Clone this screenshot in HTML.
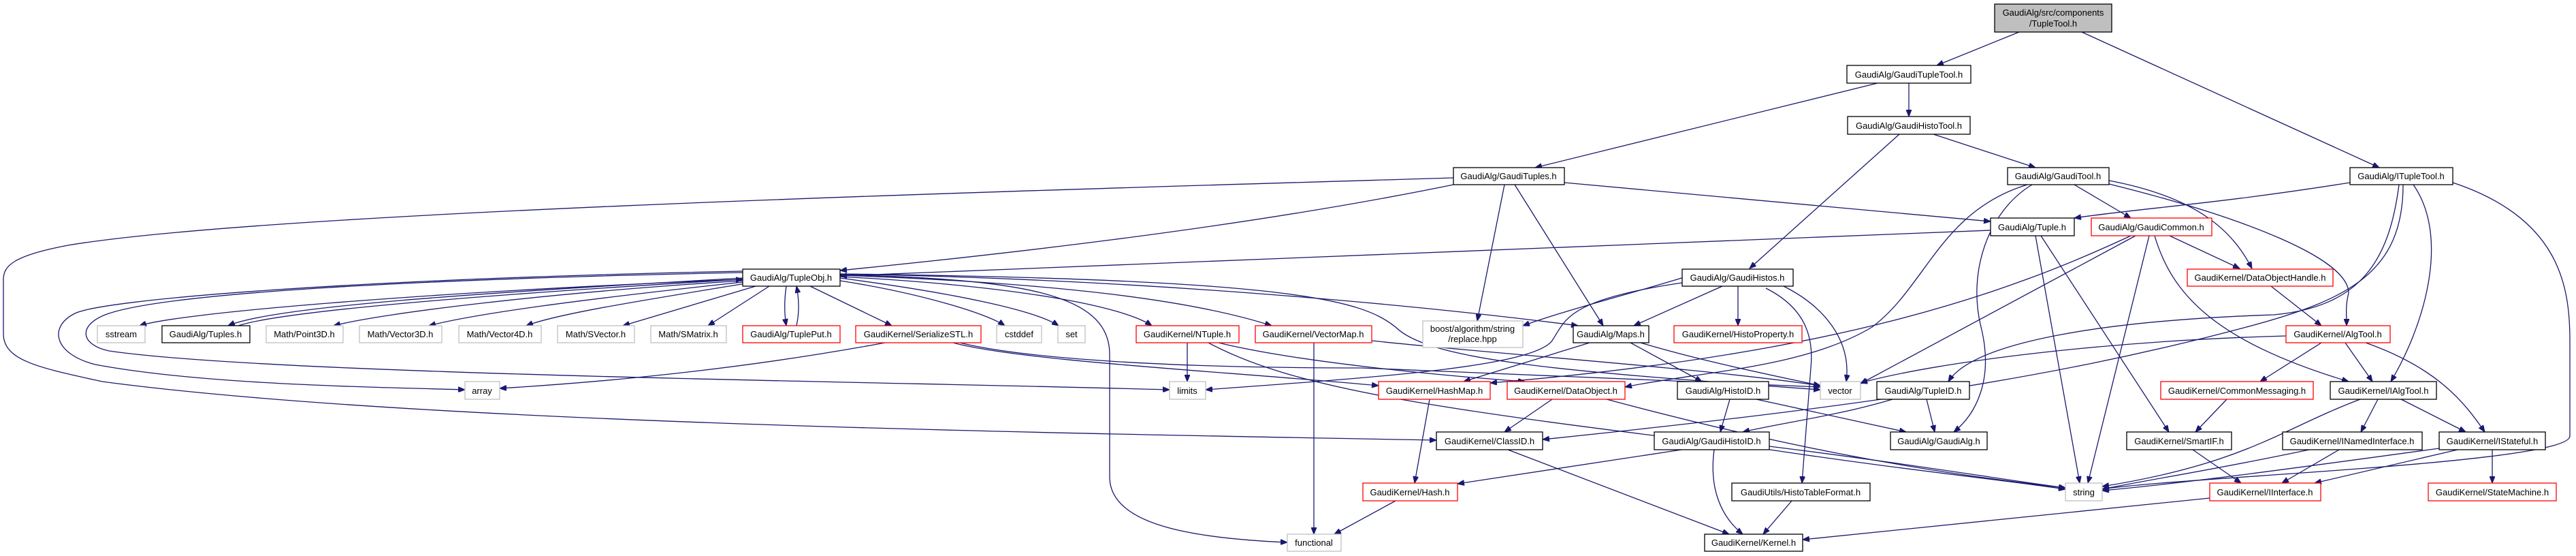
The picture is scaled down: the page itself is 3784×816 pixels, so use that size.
<!DOCTYPE html>
<html><head><meta charset="utf-8"><style>
html,body{margin:0;padding:0;background:#fff;}
svg{display:block;}
text{font-family:"Liberation Sans",Arial,sans-serif;font-size:13px;fill:#000;}
.e{fill:none;stroke:#191970;stroke-width:1.3;marker-end:url(#a);}
.b rect{fill:#fff;stroke:#000;stroke-width:1.3;}
.r rect{fill:#fff;stroke:#ff0000;stroke-width:1.3;}
.g rect{fill:#fff;stroke:#bfbfbf;stroke-width:1.3;}
</style></head><body>
<svg width="3784" height="816" viewBox="0 0 3784 816" xmlns="http://www.w3.org/2000/svg">
<defs><marker id="a" markerUnits="userSpaceOnUse" markerWidth="11" markerHeight="8" refX="10" refY="4" orient="auto"><path d="M0,0 L10,4 L0,8 z" fill="#191970" stroke="#191970"/></marker></defs>
<g>
<path class="e" d="M2966,47 L2845,96"/>
<path class="e" d="M3058,47 L3495,246"/>
<path class="e" d="M2804,122 L2804,171"/>
<path class="e" d="M2758,122 L2255,246"/>
<path class="e" d="M2840,197 L2990,246"/>
<path class="e" d="M2790,197 L2570,394"/>
<path class="e" d="M2140,270 C1800,340 1400,380 1234,397"/>
<path class="e" d="M2298,268 L2924,325"/>
<path class="e" d="M2225,271 L2355,478"/>
<path class="e" d="M2210,271 L2170,471"/>
<path class="e" d="M2135,261 C1500,280 400,310 100,360 C20,375 5,390 5,410 L5,490 C5,530 60,540 150,560 C600,620 1500,635 2110,646"/>
<path class="e" d="M3452,268 C3250,300 3150,305 3047,320"/>
<path class="e" d="M3545,271 C3600,350 3560,480 3512,560"/>
<path class="e" d="M3603,268 C3760,320 3775,420 3775,500 L3775,640 C3775,680 3200,700 3088,718"/>
<path class="e" d="M3524,271 C3510,380 3470,450 3340,462 C3100,470 2900,500 2862,560"/>
<path class="e" d="M3530,271 C3530,400 3450,440 3300,480 C3000,560 2700,600 2266,645"/>
<path class="e" d="M3047,271 L3130,320"/>
<path class="e" d="M3098,265 C3230,290 3280,340 3308,394"/>
<path class="e" d="M3098,270 C3300,320 3450,380 3450,430 C3445,450 3447,460 3447,478"/>
<path class="e" d="M2985,271 C2920,310 2890,400 2910,480 C2930,560 2900,610 2870,634"/>
<path class="e" d="M2978,271 C2850,310 2830,420 2750,480 C2650,540 2500,545 2387,568"/>
<path class="e" d="M2924,338 L1234,405"/>
<path class="e" d="M2990,346 L3055,709"/>
<path class="e" d="M2998,346 L3186,634"/>
<path class="e" d="M3187,346 L3290,394"/>
<path class="e" d="M3165,346 C3190,430 3250,500 3450,560"/>
<path class="e" d="M3157,346 L3067,709"/>
<path class="e" d="M3137,346 L2733,563"/>
<path class="e" d="M3130,346 C2950,430 2700,520 2189,562"/>
<path class="e" d="M3336,420 L3410,478"/>
<path class="e" d="M3445,503 L3485,560"/>
<path class="e" d="M3475,503 C3580,540 3620,590 3650,634"/>
<path class="e" d="M3410,503 L3320,560"/>
<path class="e" d="M3358,493 C3100,500 2850,530 2733,562"/>
<path class="e" d="M3493,586 L3468,634"/>
<path class="e" d="M3527,586 L3622,634"/>
<path class="e" d="M3467,586 C3350,630 3300,680 3088,714"/>
<path class="e" d="M3271,586 L3225,634"/>
<path class="e" d="M3436,660 L3352,709"/>
<path class="e" d="M3392,660 C3250,690 3150,705 3088,718"/>
<path class="e" d="M3610,660 L3400,709"/>
<path class="e" d="M3661,660 L3661,709"/>
<path class="e" d="M3583,658 C3350,690 3200,710 3088,720"/>
<path class="e" d="M3221,660 L3292,709"/>
<path class="e" d="M3246,731 L2648,792"/>
<path class="e" d="M1091,408 C700,430 400,450 335,478"/>
<path class="e" d="M350,478 C420,455 750,430 1091,410"/>
<path class="e" d="M1091,410 C600,430 260,460 205,478"/>
<path class="e" d="M1091,412 C800,430 560,460 490,478"/>
<path class="e" d="M1091,414 C850,440 700,460 630,478"/>
<path class="e" d="M1095,416 C950,440 820,460 773,478"/>
<path class="e" d="M1110,420 L915,478"/>
<path class="e" d="M1130,420 L1040,478"/>
<path class="e" d="M1155,420 C1152,440 1152,460 1155,478"/>
<path class="e" d="M1170,478 C1174,460 1174,440 1170,420"/>
<path class="e" d="M1190,420 L1310,478"/>
<path class="e" d="M1234,412 C1350,430 1450,460 1476,478"/>
<path class="e" d="M1234,408 C1400,430 1520,455 1555,478"/>
<path class="e" d="M1234,406 C1500,420 1650,450 1692,478"/>
<path class="e" d="M1234,404 C1550,415 1750,440 1868,478"/>
<path class="e" d="M1234,402 C1700,410 2100,450 2318,478"/>
<path class="e" d="M1234,403 C1500,410 1630,430 1630,520 L1630,700 C1630,770 1750,790 1891,796"/>
<path class="e" d="M1234,402 C1900,410 2000,440 2050,480 C2100,530 2300,545 2674,572"/>
<path class="e" d="M1091,400 C600,410 250,430 160,460 C115,475 115,505 160,515 C400,550 1300,560 1718,572"/>
<path class="e" d="M1091,398 C500,410 150,440 110,460 C70,480 80,520 140,535 C300,565 550,568 683,572"/>
<path class="e" d="M1300,503 C1100,540 900,560 734,570"/>
<path class="e" d="M1400,503 C1500,530 1800,545 2025,566"/>
<path class="e" d="M1410,503 C1500,525 1700,540 2000,540 L2674,568"/>
<path class="e" d="M1744,503 L1744,560"/>
<path class="e" d="M1775,503 C1900,570 2100,600 2600,660 C2800,690 2950,705 3034,718"/>
<path class="e" d="M1790,503 C1900,530 2100,550 2240,560"/>
<path class="e" d="M1930,503 L1930,784"/>
<path class="e" d="M2015,500 C2200,520 2500,540 2674,566"/>
<path class="e" d="M2480,405 C2400,430 2300,455 2237,478"/>
<path class="e" d="M2530,420 L2400,478"/>
<path class="e" d="M2553,420 L2553,478"/>
<path class="e" d="M2620,420 C2680,450 2720,500 2712,560"/>
<path class="e" d="M2594,423 C2656,454 2664,500 2660,540 L2647,709"/>
<path class="e" d="M2471,415 C2300,440 2300,470 2280,500 C2250,540 2000,555 1771,572"/>
<path class="e" d="M2335,503 L2150,560"/>
<path class="e" d="M2395,503 L2500,560"/>
<path class="e" d="M2410,503 C2500,530 2600,550 2674,566"/>
<path class="e" d="M2541,586 L2527,634"/>
<path class="e" d="M2580,586 L2800,634"/>
<path class="e" d="M2280,586 L2210,634"/>
<path class="e" d="M2360,586 C2600,650 2800,690 3034,716"/>
<path class="e" d="M2470,660 L2141,710"/>
<path class="e" d="M2518,660 C2510,720 2530,760 2560,784"/>
<path class="e" d="M2599,655 C2800,680 2950,705 3034,716"/>
<path class="e" d="M2215,660 L2540,784"/>
<path class="e" d="M2100,586 L2078,709"/>
<path class="e" d="M2050,735 L1960,784"/>
<path class="e" d="M2830,586 L2842,634"/>
<path class="e" d="M2780,586 C2700,610 2620,620 2560,634"/>
<path class="e" d="M2632,735 L2590,784"/>
</g>
<g text-anchor="middle">
<g class="b"><rect x="2930" y="6" width="172" height="41" style="fill:#bfbfbf"/><text x="3016" y="23">GaudiAlg/src/components</text><text x="3016" y="39">/TupleTool.h</text></g>
<g class="b"><rect x="2713" y="96" width="182" height="26"/><text x="2804" y="114">GaudiAlg/GaudiTupleTool.h</text></g>
<g class="b"><rect x="2714" y="171" width="180" height="26"/><text x="2804" y="189">GaudiAlg/GaudiHistoTool.h</text></g>
<g class="b"><rect x="2135" y="246" width="163" height="25"/><text x="2216" y="263">GaudiAlg/GaudiTuples.h</text></g>
<g class="b"><rect x="2949" y="246" width="149" height="25"/><text x="3023" y="263">GaudiAlg/GaudiTool.h</text></g>
<g class="b"><rect x="3452" y="246" width="151" height="25"/><text x="3527" y="263">GaudiAlg/ITupleTool.h</text></g>
<g class="b"><rect x="2924" y="320" width="123" height="26"/><text x="2985" y="338">GaudiAlg/Tuple.h</text></g>
<g class="r"><rect x="3072" y="320" width="177" height="26"/><text x="3160" y="338">GaudiAlg/GaudiCommon.h</text></g>
<g class="b"><rect x="1091" y="395" width="143" height="25"/><text x="1162" y="412">GaudiAlg/TupleObj.h</text></g>
<g class="b"><rect x="2471" y="395" width="163" height="25"/><text x="2552" y="412">GaudiAlg/GaudiHistos.h</text></g>
<g class="r"><rect x="3213" y="395" width="214" height="25"/><text x="3320" y="412">GaudiKernel/DataObjectHandle.h</text></g>
<g class="g"><rect x="143" y="478" width="70" height="25"/><text x="178" y="495">sstream</text></g>
<g class="b"><rect x="238" y="478" width="129" height="25"/><text x="302" y="495">GaudiAlg/Tuples.h</text></g>
<g class="g"><rect x="391" y="478" width="113" height="25"/><text x="447" y="495">Math/Point3D.h</text></g>
<g class="g"><rect x="528" y="478" width="121" height="25"/><text x="588" y="495">Math/Vector3D.h</text></g>
<g class="g"><rect x="674" y="478" width="121" height="25"/><text x="734" y="495">Math/Vector4D.h</text></g>
<g class="g"><rect x="819" y="478" width="113" height="25"/><text x="875" y="495">Math/SVector.h</text></g>
<g class="g"><rect x="956" y="478" width="111" height="25"/><text x="1011" y="495">Math/SMatrix.h</text></g>
<g class="r"><rect x="1091" y="478" width="143" height="25"/><text x="1162" y="495">GaudiAlg/TuplePut.h</text></g>
<g class="r"><rect x="1257" y="478" width="184" height="25"/><text x="1349" y="495">GaudiKernel/SerializeSTL.h</text></g>
<g class="g"><rect x="1464" y="478" width="66" height="25"/><text x="1497" y="495">cstddef</text></g>
<g class="g"><rect x="1554" y="478" width="40" height="25"/><text x="1574" y="495">set</text></g>
<g class="r"><rect x="1669" y="478" width="151" height="25"/><text x="1744" y="495">GaudiKernel/NTuple.h</text></g>
<g class="r"><rect x="1844" y="478" width="171" height="25"/><text x="1929" y="495">GaudiKernel/VectorMap.h</text></g>
<g class="g"><rect x="2090" y="471" width="147" height="39"/><text x="2163" y="487">boost/algorithm/string</text><text x="2163" y="502">/replace.hpp</text></g>
<g class="b"><rect x="2311" y="478" width="111" height="25"/><text x="2366" y="495">GaudiAlg/Maps.h</text></g>
<g class="r"><rect x="2459" y="478" width="188" height="25"/><text x="2553" y="495">GaudiKernel/HistoProperty.h</text></g>
<g class="r"><rect x="3358" y="478" width="153" height="25"/><text x="3434" y="495">GaudiKernel/AlgTool.h</text></g>
<g class="g"><rect x="683" y="560" width="51" height="26"/><text x="708" y="578">array</text></g>
<g class="g"><rect x="1718" y="560" width="53" height="26"/><text x="1744" y="578">limits</text></g>
<g class="r"><rect x="2025" y="560" width="164" height="26"/><text x="2107" y="578">GaudiKernel/HashMap.h</text></g>
<g class="r"><rect x="2214" y="560" width="173" height="26"/><text x="2300" y="578">GaudiKernel/DataObject.h</text></g>
<g class="b"><rect x="2464" y="560" width="134" height="26"/><text x="2531" y="578">GaudiAlg/HistoID.h</text></g>
<g class="g"><rect x="2674" y="560" width="59" height="26"/><text x="2703" y="578">vector</text></g>
<g class="b"><rect x="2757" y="560" width="136" height="26"/><text x="2825" y="578">GaudiAlg/TupleID.h</text></g>
<g class="r"><rect x="3174" y="560" width="224" height="26"/><text x="3286" y="578">GaudiKernel/CommonMessaging.h</text></g>
<g class="b"><rect x="3423" y="560" width="156" height="26"/><text x="3501" y="578">GaudiKernel/IAlgTool.h</text></g>
<g class="b"><rect x="2110" y="634" width="156" height="26"/><text x="2188" y="652">GaudiKernel/ClassID.h</text></g>
<g class="b"><rect x="2430" y="634" width="169" height="26"/><text x="2514" y="652">GaudiAlg/GaudiHistoID.h</text></g>
<g class="b"><rect x="2777" y="634" width="142" height="26"/><text x="2848" y="652">GaudiAlg/GaudiAlg.h</text></g>
<g class="b"><rect x="3124" y="634" width="154" height="26"/><text x="3201" y="652">GaudiKernel/SmartIF.h</text></g>
<g class="b"><rect x="3353" y="634" width="205" height="26"/><text x="3455" y="652">GaudiKernel/INamedInterface.h</text></g>
<g class="b"><rect x="3583" y="634" width="156" height="26"/><text x="3661" y="652">GaudiKernel/IStateful.h</text></g>
<g class="r"><rect x="2002" y="709" width="139" height="26"/><text x="2071" y="727">GaudiKernel/Hash.h</text></g>
<g class="b"><rect x="2544" y="709" width="203" height="26"/><text x="2645" y="727">GaudiUtils/HistoTableFormat.h</text></g>
<g class="g"><rect x="3034" y="709" width="54" height="26"/><text x="3061" y="727">string</text></g>
<g class="r"><rect x="3246" y="709" width="163" height="26"/><text x="3327" y="727">GaudiKernel/IInterface.h</text></g>
<g class="r"><rect x="3567" y="709" width="188" height="26"/><text x="3661" y="727">GaudiKernel/StateMachine.h</text></g>
<g class="g"><rect x="1891" y="784" width="79" height="25"/><text x="1930" y="801">functional</text></g>
<g class="b"><rect x="2504" y="784" width="144" height="25"/><text x="2576" y="801">GaudiKernel/Kernel.h</text></g>
</g>
</svg>
</body></html>
